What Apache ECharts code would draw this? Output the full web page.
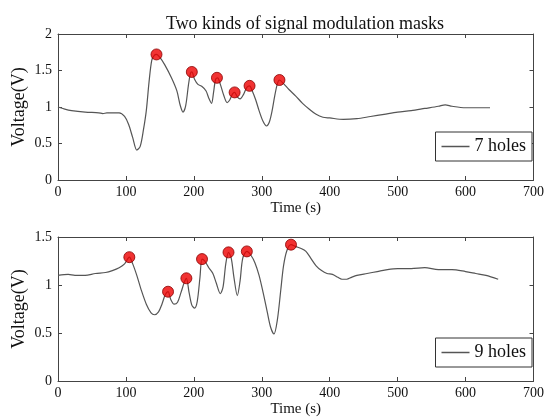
<!DOCTYPE html>
<html>
<head>
<meta charset="utf-8">
<script src="https://cdn.jsdelivr.net/npm/echarts@6/dist/echarts.min.js"></script>
<style>
  html, body { margin: 0; padding: 0; background: #fff; }
  #chart { width: 547px; height: 418px; }
</style>
</head>
<body>
<div id="chart"></div>
<script>
// 7 holes trace (time in s, voltage in V)
var t7 = [0, 10, 20, 40, 60, 66, 72, 90, 98, 104, 110, 116, 121, 126, 130, 134, 138, 142, 145, 150,
  157, 167, 175, 180, 184, 188, 192, 195, 197, 201, 206, 212, 218, 222, 226, 229, 232, 235, 239, 244,
  249, 253, 257, 260, 264, 268, 273, 278, 282, 286, 291, 296, 302, 307, 311, 315, 319, 323, 326, 332,
  340, 350, 360, 370, 380, 390, 400, 420, 440, 460, 480, 500, 520, 540, 560, 570, 580, 600, 620, 636];
var v7 = [1.00, 0.97, 0.95, 0.93, 0.92, 0.91, 0.92, 0.92, 0.87, 0.76, 0.58, 0.41, 0.46, 0.70, 0.95, 1.34, 1.64, 1.71, 1.72, 1.68,
  1.58, 1.40, 1.22, 1.02, 0.93, 1.02, 1.30, 1.46, 1.48, 1.38, 1.31, 1.28, 1.22, 1.12, 1.05, 1.20, 1.38, 1.40, 1.31, 1.16,
  1.06, 1.10, 1.18, 1.20, 1.14, 1.11, 1.17, 1.27, 1.29, 1.22, 1.10, 0.95, 0.80, 0.74, 0.79, 0.94, 1.15, 1.32, 1.37, 1.32,
  1.24, 1.15, 1.05, 0.97, 0.90, 0.86, 0.85, 0.83, 0.84, 0.87, 0.90, 0.93, 0.95, 0.98, 1.01, 1.03, 1.01, 0.99, 0.99, 0.99];
var peakT7 = [145, 197, 234, 260, 282, 326];
var peakV7 = [1.72, 1.48, 1.40, 1.20, 1.29, 1.37];

// 9 holes trace
var t9 = [0, 15, 25, 40, 55, 70, 80, 90, 98, 105, 110, 116, 122, 130, 137, 142, 148, 153, 158, 162,
  166, 171, 176, 181, 186, 189, 193, 197, 201, 205, 209, 212, 216, 222, 228, 233, 239, 243, 247, 251,
  255, 259, 264, 268, 272, 278, 284, 290, 296, 302, 308, 313, 318, 323, 328, 332, 337, 343, 350,
  358, 365, 372, 380, 388, 396, 404, 412, 418, 425, 432, 440, 455, 470, 485, 500, 520, 540, 560, 580,
  600, 615, 630, 648];
var v9 = [1.10, 1.11, 1.10, 1.10, 1.12, 1.13, 1.15, 1.18, 1.22, 1.29, 1.22, 1.10, 0.96, 0.80, 0.71, 0.69, 0.72, 0.80, 0.90, 0.93,
  0.85, 0.80, 0.82, 0.92, 1.03, 1.07, 0.92, 0.79, 0.76, 0.83, 1.08, 1.27, 1.25, 1.18, 1.12, 1.02, 0.91, 0.98, 1.22, 1.34,
  1.28, 1.08, 0.89, 1.04, 1.28, 1.35, 1.31, 1.23, 1.10, 0.92, 0.72, 0.56, 0.49, 0.64, 0.95, 1.20, 1.36, 1.42, 1.40,
  1.38, 1.35, 1.28, 1.20, 1.15, 1.12, 1.11, 1.08, 1.06, 1.06, 1.08, 1.10, 1.12, 1.14, 1.16, 1.17, 1.17, 1.18, 1.16, 1.16,
  1.14, 1.12, 1.10, 1.06];
var peakT9 = [105, 162, 189, 212, 251, 278, 343];
var peakV9 = [1.29, 0.93, 1.07, 1.27, 1.34, 1.35, 1.42];

function pairs(xs, ys) {
    var out = [];
    for (var i = 0; i < xs.length; i++) out.push([xs[i], ys[i]]);
    return out;
}

var serif = 'Liberation Serif';
var frame = '#444';

function xAxes(gi) {
    return [{
        gridIndex: gi, type: 'value', min: 0, max: 700, interval: 100,
        name: 'Time (s)', nameLocation: 'middle', nameGap: 21,
        nameTextStyle: { fontFamily: serif, fontSize: 15, color: '#111' },
        axisLine: { show: true, lineStyle: { color: frame, width: 1 } },
        axisTick: { show: true, inside: true, length: 4, lineStyle: { color: frame } },
        axisLabel: { fontFamily: serif, fontSize: 14, color: '#111', margin: 5 },
        splitLine: { show: false }
    }, {
        gridIndex: gi, type: 'value', min: 0, max: 700, interval: 100, position: 'top',
        axisLine: { show: true, onZero: false, lineStyle: { color: frame, width: 1 } },
        axisTick: { show: true, inside: true, length: 4, lineStyle: { color: frame } },
        axisLabel: { show: false }, splitLine: { show: false }
    }];
}

function yAxes(gi, max) {
    return [{
        gridIndex: gi, type: 'value', min: 0, max: max, interval: 0.5,
        name: 'Voltage(V)', nameLocation: 'middle', nameGap: 30, nameMoveOverlap: false,
        nameTextStyle: { fontFamily: serif, fontSize: 18, color: '#111' },
        axisLine: { show: true, lineStyle: { color: frame, width: 1 } },
        axisTick: { show: true, inside: true, length: 4, lineStyle: { color: frame } },
        axisLabel: { fontFamily: serif, fontSize: 14, color: '#111', margin: 6 },
        splitLine: { show: false }
    }, {
        gridIndex: gi, type: 'value', min: 0, max: max, interval: 0.5, position: 'right',
        axisLine: { show: true, onZero: false, lineStyle: { color: frame, width: 1 } },
        axisTick: { show: true, inside: true, length: 4, lineStyle: { color: frame } },
        axisLabel: { show: false }, splitLine: { show: false }
    }];
}

function legendAt(name, top) {
    return {
        data: [{ name: name, icon: 'rect' }], right: 15, top: top, orient: 'vertical',
        padding: [5, 6], itemWidth: 28, itemHeight: 1.5,
        backgroundColor: '#fff', borderColor: '#333', borderWidth: 1, borderRadius: 0,
        textStyle: { fontFamily: serif, fontSize: 18, color: '#111', lineHeight: 19 },
        selectedMode: false
    };
}

var peakStyle = { color: '#ee0000', borderColor: '#8a0000', borderWidth: 1 };

var chart = echarts.init(document.getElementById('chart'));
var option = {
    animation: false,
    backgroundColor: '#fff',
    title: {
        text: 'Two kinds of signal modulation masks',
        left: 300, top: 10, textAlign: 'center',
        textStyle: { fontFamily: serif, fontSize: 18, fontWeight: 'normal', color: '#111' }
    },
    legend: [legendAt('7 holes', 132), legendAt('9 holes', 338)],
    grid: [
        { left: 58, right: 10, top: 34, height: 146 },
        { left: 58, right: 10, top: 237, height: 146 }
    ],
    xAxis: xAxes(0).concat(xAxes(1)),
    yAxis: yAxes(0, 2).concat(yAxes(1, 1.5)),
    series: [{
        name: '7 holes', type: 'line', xAxisIndex: 0, yAxisIndex: 0,
        data: pairs(t7, v7), smooth: 0.3, symbol: 'none',
        lineStyle: { color: '#555', width: 1.2 }, itemStyle: { color: '#555' }
    }, {
        type: 'scatter', xAxisIndex: 0, yAxisIndex: 0,
        data: pairs(peakT7, peakV7), symbolSize: 11, itemStyle: peakStyle, z: 5
    }, {
        name: '9 holes', type: 'line', xAxisIndex: 2, yAxisIndex: 2,
        data: pairs(t9, v9), smooth: 0.3, symbol: 'none',
        lineStyle: { color: '#555', width: 1.2 }, itemStyle: { color: '#555' }
    }, {
        type: 'scatter', xAxisIndex: 2, yAxisIndex: 2,
        data: pairs(peakT9, peakV9), symbolSize: 11, itemStyle: peakStyle, z: 5
    }]
};
chart.setOption(option);
</script>
</body>
</html>
